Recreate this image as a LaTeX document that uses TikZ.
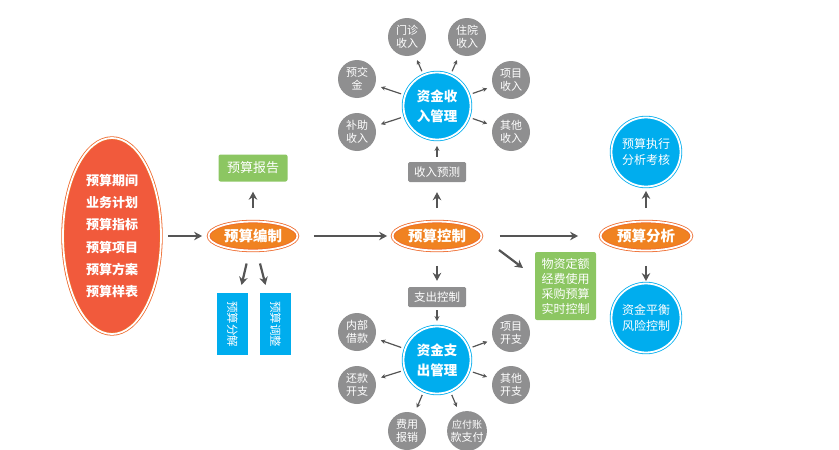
\documentclass[tikz,border=0pt]{standalone}
\usepackage{fontspec}
\setmainfont{Noto Sans CJK SC}
\usetikzlibrary{shapes.geometric,arrows.meta}
\definecolor{redC}{HTML}{F15A3C}
\definecolor{orangeC}{HTML}{F08221}
\definecolor{ringC}{HTML}{EE6A2C}
\definecolor{blueC}{HTML}{00ADEE}
\definecolor{grayC}{HTML}{8F8F90}
\definecolor{greenC}{HTML}{8CC662}
\definecolor{arrC}{HTML}{555555}
\begin{document}
\begin{tikzpicture}[x=1pt,y=-1pt,>={Stealth[length=8pt,width=8.5pt]},
  every node/.style={text=white,align=center,inner sep=0pt},
  src/.style={ellipse,fill=redC,draw=ringC,double=white,double distance=1.8pt,line width=0.8pt,
    minimum width=98pt,minimum height=196pt,font=\bfseries\fontsize{13}{22.2}\selectfont},
  oval/.style={ellipse,fill=orangeC,draw=ringC,double=white,double distance=1.8pt,line width=0.8pt,
    minimum width=89pt,minimum height=29pt,font=\bfseries\fontsize{14.5}{16}\selectfont},
  bigc/.style={circle,fill=blueC,draw=blueC,double=white,double distance=1.8pt,line width=0.8pt,
    minimum size=67pt,font=\bfseries\fontsize{13.5}{20}\selectfont},
  blc/.style={circle,fill=blueC,draw=blueC,double=white,double distance=1.8pt,line width=0.8pt,
    minimum size=69pt,font=\fontsize{12}{16}\selectfont},
  sat/.style={circle,fill=grayC,minimum size=38pt,font=\fontsize{11}{13}\selectfont},
  gbox/.style={rectangle,rounded corners=2pt,fill=greenC,minimum width=69pt,minimum height=27pt,
    font=\fontsize{13}{15}\selectfont},
  tbox/.style={rectangle,rounded corners=1.5pt,fill=grayC,minimum width=58pt,minimum height=20pt,
    font=\fontsize{11.5}{13}\selectfont},
  vbox/.style={rectangle,fill=blueC,minimum width=62pt,minimum height=31pt,rotate=-90,
    font=\fontsize{11.5}{13}\selectfont},
  arr/.style={->,draw=arrC,line width=2.2pt},
  marr/.style={-{Stealth[length=5pt,width=5pt]},draw=arrC,line width=1.4pt},
  sarr/.style={-{Stealth[length=4.5pt,width=4.5pt]},draw=arrC,line width=1.2pt,shorten <=4pt,shorten >=6pt}]
\path[use as bounding box] (0,0) rectangle (839,450);

\node[src] (src) at (112,236) {预算期间\\业务计划\\预算指标\\预算项目\\预算方案\\预算样表};

\node[oval] (pb) at (253,236) {预算编制};
\node[gbox] (bg) at (253,168) {预算报告};
\node[vbox] (fj) at (232.5,324) {预算分解};
\node[vbox] (tz) at (275.5,324) {预算调整};

\node[oval] (pk) at (437,236) {预算控制};
\node[tbox] (sr) at (437,172) {收入预测};
\node[bigc] (zr) at (437,106) {资金收\\入管理};
\node[sat] (mz) at (407,37) {门诊\\收入};
\node[sat] (zy) at (467,37) {住院\\收入};
\node[sat] (xs) at (511,80) {项目\\收入};
\node[sat] (qs) at (511,132) {其他\\收入};
\node[sat] (yj) at (357,79) {预交\\金};
\node[sat] (bz) at (357,132) {补助\\收入};

\node[tbox] (zc) at (437,297) {支出控制};
\node[bigc] (zz) at (437,360) {资金支\\出管理};
\node[sat] (nb) at (357,332) {内部\\借款};
\node[sat] (hk) at (357,385) {还款\\开支};
\node[sat] (fy) at (407,431) {费用\\报销};
\node[sat] (yf) at (467,431) {\fontsize{10}{13}\selectfont 应付账\\款支付};
\node[sat] (xk) at (511,333) {项目\\开支};
\node[sat] (qk) at (511,385) {其他\\开支};

\node[gbox,minimum width=61pt,minimum height=68pt,font=\fontsize{12}{15}\selectfont] (wz) at (565.5,286)
  {物资定额\\经费使用\\采购预算\\实时控制};
\node[oval,minimum width=91pt] (pa) at (646,236) {预算分析};
\node[blc] (zx) at (646,152) {预算执行\\分析考核};
\node[blc] (zp) at (646,318) {资金平衡\\风险控制};

\coordinate (d1) at (499,250);
\coordinate (d2) at (523,268);

\draw [arr,shorten <=7pt,shorten >=6pt] (src) to (pb);
\draw [arr,shorten <=16pt,shorten >=5pt] (pb) to (pk);
\draw [arr,shorten <=18pt,shorten >=22pt] (pk) to (pa);
\draw [arr,shorten <=13pt,shorten >=10pt] (pb) to (bg);
\draw [arr,shorten <=13pt,shorten >=8pt] (pb) to (fj);
\draw [arr,shorten <=13pt,shorten >=8pt] (pb) to (tz);
\draw [arr,shorten <=13pt,shorten >=10pt] (pk) to (sr);
\draw [marr,shorten <=5pt,shorten >=6pt] (sr) to (zr);
\draw [arr,shorten <=15pt,shorten >=6pt] (pk) to (zc);
\draw [marr,shorten <=3pt,shorten >=5pt] (zc) to (zz);
\draw [arr] (d1) to (d2);
\draw [arr,shorten <=13pt,shorten >=4pt] (pa) to (zx);
\draw [arr,shorten <=15pt,shorten >=2pt] (pa) to (zp);

\draw [sarr] (zr) to (mz);
\draw [sarr] (zr) to (zy);
\draw [sarr] (zr) to (xs);
\draw [sarr] (zr) to (qs);
\draw [sarr] (zr) to (yj);
\draw [sarr] (zr) to (bz);
\draw [sarr] (zz) to (nb);
\draw [sarr] (zz) to (hk);
\draw [sarr] (zz) to (fy);
\draw [sarr] (zz) to (yf);
\draw [sarr] (zz) to (xk);
\draw [sarr] (zz) to (qk);
\end{tikzpicture}
\end{document}
